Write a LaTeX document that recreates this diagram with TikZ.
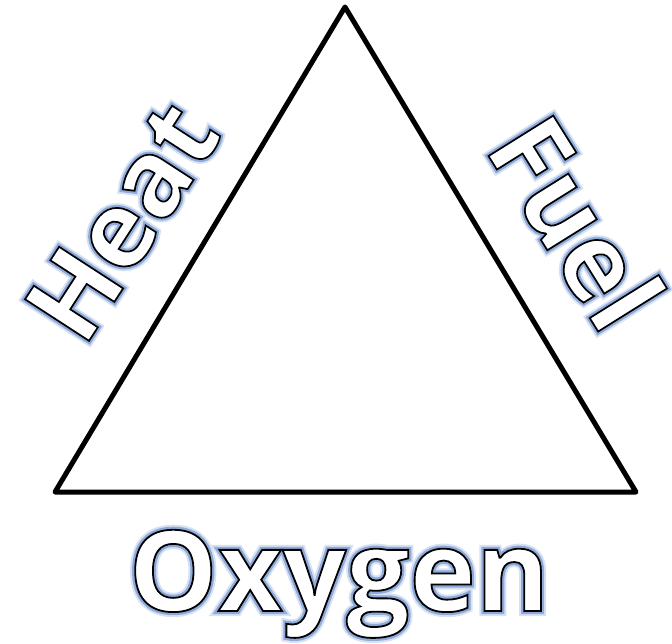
\documentclass[tikz,border=0pt]{standalone}
\usepackage{fontspec}
\setmainfont{Open Sans}
\newfontfamily\rimfont[FakeBold=1.6]{Open Sans Bold}
\newfontfamily\halofont[FakeBold=5.5]{Open Sans Bold}
\newfontfamily\hazefont[FakeBold=9]{Open Sans Bold}
\usepackage{xcolor}
\definecolor{Ink}{HTML}{000000}
\definecolor{Glow}{HTML}{8EAADA}
\newcommand{\glowword}[1]{%
  \rlap{\hazefont\color{Glow!35}#1}%
  \rlap{\halofont\color{Glow}#1}%
  {\rimfont\color{white}\special{pdf:literal direct 0 G}#1}}
\tikzset{
  word/.style={inner sep=0pt,font=\fontsize{#1}{#1}\selectfont},
  edge/.style={Ink,line width=5pt,line join=round}
}

\begin{document}
\begin{tikzpicture}[x=1pt,y=-1pt]
  \useasboundingbox (0,0) rectangle (672,644);
  \coordinate (apex) at (345,7);
  \coordinate (left) at (55,492);
  \coordinate (right) at (636,492);
  \draw[edge] (apex) -- (left) -- (right) -- cycle;
  \node[word=112,anchor=base] (oxygen) at (339,611) {\glowword{Oxygen}};
  \node[word=107,rotate=57] (heat) at (122,221) {\glowword{Heat}};
  \node[word=107,rotate=-58] (fuel) at (577,222) {\glowword{Fuel}};
\end{tikzpicture}
\end{document}
